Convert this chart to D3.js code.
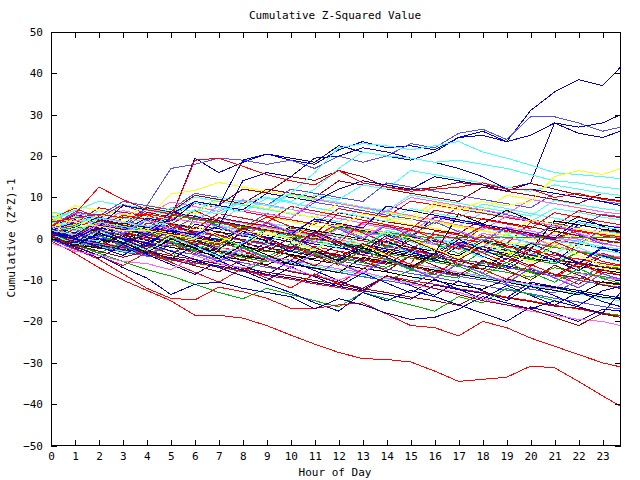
<!DOCTYPE html>
<html><head><meta charset="utf-8">
<script src="https://cdn.jsdelivr.net/npm/d3@7"></script>
<style>
body{margin:0;background:#fff}
text{font-family:"DejaVu Sans Mono",monospace;font-size:11px;fill:#000}
</style>
</head><body><svg id="c" width="640" height="480"></svg>
<script>
const hours = [0,1,2,3,4,5,6,7,8,9,10,11,12,13,14,15,16,17,18,19,20,21,22,23,23.75];
const xTickValues = [0,1,2,3,4,5,6,7,8,9,10,11,12,13,14,15,16,17,18,19,20,21,22,23];
const yTickValues = [-50,-40,-30,-20,-10,0,10,20,30,40,50];
const titleText = "Cumulative Z-Squared Value";
const xLabel = "Hour of Day";
const yLabel = "Cumulative (Z*Z)-1";

// bulk series (hourly readings)
const b1 = [1.5,0.8,3.6,2.4,1.3,0.5,-0.6,-1.5,3.2,2.1,1.0,0.2,-0.9,-1.8,1.5,0.4,-0.5,-1.6,2.8,1.7,0.8,-0.3,-1.2,2.1,1.4];
const b2 = [0.2,-1.1,-2.0,-3.2,-4.1,-1.5,-2.6,-3.4,-4.5,-5.6,-2.8,-3.9,-4.7,-5.8,-6.9,-4.2,-5.1,-6.3,-7.2,-8.1,-9.3,-7.0,-8.2,-9.1,-9.8];
const b3 = [0.8,2.9,1.8,0.7,-0.4,-1.3,3.5,2.4,1.3,0.4,-0.8,4.2,3.1,2.0,1.2,0.1,5.3,4.1,3.2,2.0,0.9,-0.2,3.4,2.3,1.8];
const b4 = [3.5,2.6,1.4,4.1,3.0,1.9,0.8,-0.1,-1.2,2.5,1.3,0.4,3.6,2.4,1.5,0.3,-0.6,-1.8,1.3,0.2,-0.9,-1.8,-2.9,-3.8,-4.6];
const b5 = [2.8,4.9,3.8,2.6,1.7,5.8,4.7,3.9,8.2,7.1,6.0,5.2,4.1,7.4,6.2,5.3,4.2,3.1,6.3,5.4,4.2,7.3,6.4,5.2,4.6];
const b6 = [0.4,-0.7,-1.8,1.2,0.3,-0.9,-1.9,-2.8,-3.9,-5.0,-2.1,-3.2,-4.0,-5.1,-6.2,-2.8,-3.9,-5.0,-5.8,-6.9,-8.1,-9.0,-5.7,-6.8,-7.4];
const b7 = [6.2,5.1,4.3,3.1,6.4,5.2,4.1,3.3,2.2,5.3,4.2,3.1,2.3,1.1,4.6,3.4,2.5,1.3,0.4,-0.8,-1.7,1.5,0.3,-0.6,-1.3];
const b8 = [0.1,-1.0,-2.2,-3.1,-1.0,-2.1,-3.0,-4.2,-5.1,-6.3,-4.0,-5.2,-6.1,-7.2,-8.0,-9.2,-10.1,-11.3,-12.2,-9.8,-10.9,-11.8,-13.0,-14.1,-14.6];
const b9 = [1.8,0.9,4.2,3.1,6.9,5.8,4.9,3.8,2.7,6.1,5.0,8.8,7.9,6.8,5.7,4.8,3.6,7.8,6.9,5.8,4.6,3.7,2.6,5.9,5.3];
const b10 = [5.1,4.0,3.2,2.1,1.0,-0.1,-1.2,-2.0,-3.1,-4.3,-5.2,-1.9,-3.0,-3.9,-5.1,-6.0,1.8,0.9,-0.3,-1.2,3.9,2.7,1.8,0.7,0.0];
const b11 = [0.6,-0.5,-1.6,-2.8,-3.7,-4.8,-5.9,-6.8,-8.0,-5.1,-6.2,-7.0,-8.2,-9.1,-10.2,-7.6,-8.7,-9.5,-5.8,-6.9,-7.8,-9.0,-9.9,-11.0,-11.7];
const b12 = [0.3,-0.8,2.6,1.5,0.4,-0.7,-1.6,-2.8,1.8,0.9,-0.2,-1.3,-2.2,-3.3,-4.4,0.5,-0.6,-1.5,-2.6,-3.5,-4.7,-5.6,-1.2,-2.3,-2.9];
const b13 = [1.2,0.1,-1.0,-1.9,-3.0,-4.1,-5.0,-6.1,-3.2,2.7,1.8,0.7,-0.2,-1.3,-2.4,0.9,0.0,-1.2,-2.1,2.8,1.9,0.8,-0.1,-1.2,-1.9];
const b14 = [4.5,3.4,6.8,5.9,4.7,3.8,2.7,1.6,4.9,3.8,2.9,1.7,0.8,3.9,2.8,1.9,0.7,-0.2,2.6,1.5,0.6,-0.5,-1.4,1.9,1.2];
const b15 = [2.1,1.0,0.1,-1.1,-2.0,2.9,1.8,0.9,-0.2,-1.1,-2.3,1.5,0.4,-0.5,-1.7,-2.6,-3.7,0.8,-0.3,-1.2,-2.3,1.9,0.8,-0.3,-1.0];
const b16 = [0.5,-0.6,-1.5,-2.6,-3.7,-4.6,-2.0,-3.1,-4.0,-5.2,-6.1,-7.2,-8.1,-4.4,-5.5,-6.4,-7.6,-8.5,-9.6,-10.5,-7.9,-9.0,-9.8,-11.0,-11.6];
const b17 = [1.9,0.8,-0.3,-1.2,2.4,1.3,0.2,-0.7,-1.8,-2.9,-3.8,-4.9,-1.2,-2.3,-3.2,-4.3,-5.2,-6.3,-7.4,-3.6,-4.7,-5.6,-6.7,-7.6,-8.2];
const b18 = [0.0,-1.1,-2.0,-3.1,-4.2,-5.1,-6.2,-3.0,-4.1,-5.0,-6.1,-7.2,-8.1,-9.2,-10.1,-11.2,-8.0,-9.1,-10.0,-11.1,-12.2,-13.1,-10.0,-11.1,-11.8];
const b19 = [3.0,1.9,1.0,-0.1,3.8,2.7,1.6,0.7,-0.4,-1.3,2.6,1.5,0.4,-0.5,-1.6,-2.7,1.1,0.0,-0.9,-2.0,-2.9,-4.0,-4.9,-6.0,-6.6];
const b20 = [0.9,-0.2,-1.1,-2.2,-3.3,5.8,4.7,3.8,2.7,1.8,0.7,-0.2,2.9,1.8,0.9,-0.2,-1.1,-2.2,-3.1,-4.2,-1.0,-2.1,-3.0,-4.1,-4.7];
const b21 = [2.6,5.8,4.7,3.6,2.7,1.6,0.5,-0.4,-1.5,2.2,1.1,0.2,-0.9,-1.8,-2.9,-3.8,-4.9,-0.8,-1.9,-2.8,-3.9,-5.0,-5.9,-7.0,-7.5];
const b22 = [0.7,-0.4,-1.3,-2.4,0.9,-0.2,-1.1,-2.2,-3.1,-4.2,-5.3,-6.2,-7.3,-8.2,-5.0,-6.1,-7.0,-8.1,-9.0,-10.1,-11.0,-12.1,-8.3,-9.4,-10.0];
const b23 = [1.4,0.3,-0.6,2.9,1.8,0.9,-0.2,-1.1,3.4,2.5,1.4,0.3,-0.6,-1.7,2.0,0.9,0.0,-1.1,-2.0,-3.1,1.2,0.1,-0.8,-1.9,-2.5];
const b24 = [4.0,2.9,2.0,0.9,-0.2,-1.1,-2.2,-3.1,-4.2,-0.8,-1.9,-2.8,-3.9,-4.8,-5.9,-6.8,-7.9,-8.8,-5.5,-6.6,-7.5,-8.6,-9.5,-10.6,-11.2];
const b25 = [2.4,1.3,0.4,3.5,2.4,1.5,5.2,4.1,3.2,2.1,1.0,0.1,3.3,2.2,1.3,0.2,3.9,2.8,1.9,0.8,-0.1,-1.2,-2.1,1.2,0.6];
const b26 = [-0.3,-1.4,-2.3,5.6,4.7,3.6,2.7,1.6,0.7,-0.4,3.0,1.9,1.0,-0.1,-1.0,-2.1,-3.0,-4.1,-0.6,-1.7,-2.6,4.3,3.4,2.3,1.7];
const b27 = [3.3,2.2,1.3,0.2,-0.9,-1.8,1.6,0.5,-0.4,-1.5,-2.4,-3.5,-4.4,-5.5,-1.9,-3.0,-3.9,-5.0,-5.9,-7.0,-7.9,-9.0,-9.9,-6.5,-7.0];
const b28 = [0.2,-0.9,-1.8,-2.9,-3.8,-4.9,-5.8,-6.9,-7.8,-8.9,-9.8,-10.9,-11.8,-12.9,-9.0,-10.1,-11.0,-12.1,-13.0,-14.1,-15.0,-16.1,-17.0,-18.1,-18.6];
const b29 = [1.6,0.5,3.9,2.8,1.9,0.8,-0.1,-1.2,-2.1,-3.2,0.4,-0.7,-1.6,-2.7,-3.6,-4.7,-5.6,-6.7,-3.0,-4.1,-5.0,-6.1,-3.2,-4.3,-4.9];
const b30 = [0.5,-0.6,-1.5,-2.6,-3.5,-4.6,-5.5,-6.6,-7.5,-8.6,-9.5,-10.6,-11.5,-12.6,-13.5,-14.6,-11.2,-12.3,-13.2,-14.3,-10.5,-11.6,-12.5,-13.6,-14.3];
const b31 = [5.5,4.4,3.5,2.4,1.5,0.4,4.1,3.0,2.1,1.0,0.1,-1.0,2.6,1.5,0.6,-0.5,-1.4,-2.5,-3.4,0.2,-0.9,-1.8,-2.9,-3.8,-4.4];
const b32 = [0.1,-1.0,-1.9,-3.0,-3.9,-0.6,-1.7,-2.6,-3.7,-4.6,-5.7,-6.6,-7.7,-8.6,-9.7,-10.6,-7.3,-8.4,-9.3,-10.4,-11.3,-12.4,-13.3,-14.4,-15.0];
const b33 = [1.0,-0.1,-1.0,-2.1,-3.0,-4.1,-5.0,-6.1,-7.0,-8.1,-9.0,-10.1,-11.0,-12.1,-13.0,-14.1,-15.0,-16.1,-13.2,-14.3,-15.2,-16.3,-16.8,-18.2,-19.0];
const b34 = [3.8,2.7,1.8,0.7,-0.2,-1.3,-2.2,-3.3,3.5,2.4,1.5,0.4,-0.5,-1.6,-2.5,-3.6,-4.5,-5.6,-6.5,-3.1,-4.2,-5.1,-6.2,-7.1,-7.7];
const b35 = [0.4,2.9,1.8,0.9,-0.2,-1.1,-2.2,-3.1,-4.2,-5.1,-6.2,-7.1,-8.2,-4.5,-5.6,-6.5,-7.6,-8.5,-9.6,-10.5,-11.6,-12.5,-13.6,-10.4,-11.0];
const b36 = [2.2,1.1,0.2,-0.9,-1.8,-2.9,-3.8,-4.9,-5.8,-6.9,-7.8,-8.9,-5.3,-6.4,-7.3,-8.4,-9.3,-10.4,-11.3,-12.4,-13.3,-14.4,-15.3,-16.4,-17.0];
const b37 = [4.8,3.7,7.5,6.4,5.5,4.4,8.6,7.5,6.6,5.5,4.6,3.5,7.3,6.2,5.3,9.1,8.2,7.1,6.2,5.1,4.2,3.1,6.8,5.7,5.1];
const b38 = [6.5,5.4,4.5,8.3,7.2,6.3,10.1,9.0,8.1,7.0,10.8,9.7,8.8,7.7,6.8,10.6,9.5,8.6,7.5,6.6,5.5,9.3,8.2,7.3,6.8];
const b39 = [3.1,6.2,5.1,4.2,3.1,2.2,1.1,4.9,3.8,2.9,1.8,0.9,-0.2,3.6,2.5,1.6,5.4,4.5,3.4,2.5,1.4,0.3,-0.6,3.2,2.8];
const b40 = [2.0,0.9,4.3,3.2,2.3,1.2,0.3,5.1,4.0,3.1,2.0,1.1,6.3,5.2,4.1,3.2,2.1,1.2,4.9,3.8,2.9,1.8,0.7,-0.4,-1.0];
const b41 = [4.1,8.0,6.9,5.8,4.9,10.8,11.7,13.6,12.5,11.4,10.5,9.4,8.5,7.4,6.5,5.4,8.7,7.6,6.7,10.5,9.6,8.5,7.6,6.5,6.0];
const b42 = [1.1,0.0,-0.9,3.8,2.9,1.8,0.9,-0.2,-1.1,-2.2,-3.1,-4.2,-5.1,-1.4,-2.5,-3.4,-4.5,-5.4,-6.5,-7.4,-4.0,-5.1,-6.0,-2.3,-2.8];
const b43 = [1.5,0.4,3.6,2.5,6.4,5.3,9.0,8.1,12.0,11.1,15.0,14.1,16.5,15.0,12.5,11.8,12.4,13.6,13.0,12.2,13.4,12.0,10.6,9.8,9.2];
const b44 = [0.3,-0.8,-1.7,2.1,1.0,0.1,-1.0,-1.9,3.0,1.9,1.0,-0.1,-1.0,-2.1,1.6,0.7,0.2,0.2,0.2,0.2,0.2,0.2,0.2,0.2,0.2];

// jagged series (hourly readings)
const z1 = [1.0,3.5,0.8,-1.9,1.4,-1.2,-3.6,-0.4,-2.9,-5.2,-1.8,-4.1,-6.4,-2.7,-5.0,-7.3,-3.6,-6.1,-8.2,-4.7,-7.0,-9.4,-6.0,-8.5,-9.8];
const z2 = [2.2,-0.3,3.1,0.6,-1.8,2.5,-0.1,-2.6,1.8,-0.7,-3.1,0.9,-1.6,-4.0,-0.5,-3.0,-5.4,-1.7,-4.2,-6.6,-2.8,-5.3,-7.7,-4.1,-5.5];
const z3 = [0.0,-2.4,0.9,-1.5,-3.9,-0.6,-3.0,-5.4,-2.1,-4.5,-6.9,-3.4,-5.8,-8.2,-4.6,-7.0,-9.4,-5.9,-8.3,-10.7,-7.0,-9.4,-11.8,-8.5,-10.0];
const z4 = [4.2,6.9,4.4,2.0,5.1,2.7,0.3,3.6,1.2,-1.2,2.4,0.0,-2.4,1.3,-1.1,-3.5,0.2,-2.2,-4.6,-1.0,-3.4,-5.8,-2.1,-4.5,-5.6];
const z5 = [1.3,-1.1,-3.5,-0.8,-3.2,-5.6,5.6,3.2,0.8,4.0,1.6,-0.8,2.7,0.3,-2.1,1.2,-1.2,-3.6,-0.1,-2.5,-4.9,-1.6,-4.0,-6.4,-7.2];
const z6 = [3.6,1.2,4.5,2.1,-0.3,3.4,1.0,-1.4,2.3,-0.1,-2.5,1.4,-1.0,-3.4,0.2,-2.2,-4.6,-1.0,-3.4,-5.8,-2.2,-4.6,-7.0,-3.5,-4.9];
const z7 = [0.4,2.8,5.3,2.9,0.5,3.7,1.3,-1.1,2.6,0.2,-2.2,1.7,-0.7,-3.1,0.8,-1.6,-4.0,-0.2,-2.6,-5.0,-1.1,-3.5,-5.9,-2.0,-3.4];
const z8 = [2.5,0.1,-2.3,1.0,-1.4,-3.8,-0.5,-2.9,-5.3,-1.8,-4.2,-6.6,-3.0,-5.4,-7.8,-4.1,-6.5,-8.9,-5.2,-7.6,-10.0,-6.4,-8.8,-11.2,-12.0];
const z9 = [5.8,3.4,1.0,4.3,1.9,-0.5,3.0,0.6,-1.8,1.9,-0.5,-2.9,0.9,-1.5,-3.9,0.0,-2.4,-4.8,-0.9,-3.3,-5.7,-1.6,-4.0,-6.4,-6.9];
const z10 = [-0.2,-2.6,0.7,-1.7,-4.1,-0.8,-3.2,-5.6,-2.3,-4.7,-7.1,-3.6,-6.0,-8.4,-4.8,-7.2,-9.6,-6.0,-8.4,-10.8,-7.1,-9.5,-11.9,-8.4,-9.8];
const z11 = [0.7,-1.7,-4.1,-6.5,-3.3,-5.7,-8.1,-10.5,-7.1,-9.5,-11.9,-8.5,-10.9,-7.3,-3.8,-6.2,-8.6,-5.0,-7.4,-9.8,-6.2,-8.6,-11.0,-7.4,-8.9];
const z12 = [1.8,4.6,2.2,-0.2,-2.6,-5.0,-1.6,-4.0,-6.4,-8.8,-5.3,-7.7,-10.1,-12.5,-8.9,-11.3,-13.7,-10.2,-12.6,-15.0,-11.4,-13.8,-16.2,-12.6,-11.5];
const z13 = [2.9,0.5,3.8,1.4,4.7,2.3,-0.1,3.2,0.8,4.1,1.7,-0.7,2.6,0.2,3.5,1.1,-1.3,2.0,-0.4,2.9,0.5,-1.9,1.4,-1.0,-2.0];
const z14 = [0.9,3.3,0.9,-1.5,1.8,-0.6,-3.0,0.3,-2.1,-4.5,-1.2,-3.6,-6.0,-2.7,-5.1,-7.5,-4.2,-6.6,-9.0,-5.7,-8.1,-10.5,-7.2,-9.6,-10.8];
const z15 = [1.1,-1.3,2.0,-0.4,-2.8,0.5,-1.9,-4.3,-1.0,2.3,-0.1,-2.5,0.8,-1.6,1.7,-0.7,-3.1,0.2,-2.2,1.1,-1.3,-3.7,-0.4,-2.8,-3.5];
const z16 = [0.6,-1.8,1.5,-0.9,-3.3,0.0,-2.4,-4.8,-1.5,-3.9,-6.3,-3.0,-5.4,-2.1,-4.5,-6.9,-3.6,6.0,3.6,6.9,4.5,2.1,5.4,3.0,1.8];
const z17 = [4.8,7.4,5.0,8.3,5.9,3.5,6.8,4.4,2.0,5.3,2.9,0.5,3.8,1.4,-1.0,2.3,-0.1,-2.5,0.8,-1.6,-4.0,-0.7,-3.1,-5.5,-6.4];
const z18 = [0.1,-2.3,-4.7,-1.4,-3.8,-6.2,-8.6,-5.3,-7.7,-10.1,-6.8,-9.2,-11.6,-8.3,-10.7,-13.1,-9.8,-12.2,-14.6,-11.3,-13.7,-16.1,-12.8,-15.2,-16.4];
const z19 = [3.2,5.9,3.5,1.1,4.4,2.0,5.3,2.9,0.5,3.8,1.4,4.7,2.3,-0.1,3.2,0.8,4.1,1.7,-0.7,2.6,0.2,3.5,1.1,-1.3,-0.4];
const z20 = [1.5,-0.9,2.4,0.0,-2.4,0.9,-1.5,1.8,-0.6,-3.0,0.3,-2.1,-4.5,-1.2,-3.6,-0.3,-2.7,-5.1,-1.8,-4.2,-6.6,-3.3,-5.7,-8.1,-8.8];

// upper-band series (hourly readings)
const u1 = [2.0,4.5,3.4,6.8,5.7,8.9,7.8,6.6,9.4,8.3,7.1,6.0,4.9,3.8,6.7,5.6,4.5,3.3,2.2,5.4,4.3,3.1,2.0,0.9,0.3];
const u2 = [5.0,6.8,9.1,8.0,6.9,5.8,8.7,7.6,6.5,9.8,8.7,7.5,6.4,5.3,4.2,7.3,6.2,5.1,8.4,7.3,6.1,5.0,3.9,2.8,2.2];
const u3 = [3.5,2.4,5.9,4.8,8.2,7.1,6.0,9.5,8.4,7.3,6.2,5.1,8.6,7.5,6.4,5.3,4.2,3.1,2.0,0.9,4.6,3.5,2.4,1.3,0.8];
const u4 = [0.8,3.9,2.8,5.7,4.6,3.5,2.4,6.1,5.0,3.9,7.8,6.7,5.6,4.5,3.4,2.3,6.9,5.8,4.7,3.6,2.5,6.3,5.2,4.1,3.4];
const u5 = [1.6,0.5,3.4,2.3,1.2,6.5,5.4,4.3,3.2,2.1,1.0,4.8,3.7,2.6,7.9,6.8,5.7,4.6,3.5,2.4,1.3,0.2,4.4,3.3,2.6];
const v1 = [2.0,1.0,4.5,3.5,7.5,6.5,10.5,9.5,8.5,12.0,11.0,10.0,14.0,13.0,12.0,11.0,10.0,9.0,12.5,11.5,10.5,9.5,8.5,11.0,10.5];
const v2 = [3.0,6.5,5.5,9.0,8.0,7.0,11.0,10.0,9.0,8.0,12.0,11.0,10.0,9.0,13.5,12.5,11.5,10.5,9.5,8.5,7.5,11.0,10.0,9.0,8.5];
const v3 = [1.0,0.0,3.5,2.5,1.5,5.0,4.0,8.0,7.0,6.0,5.0,9.5,8.5,7.5,6.5,10.0,9.0,8.0,7.0,6.0,9.5,8.5,7.5,6.5,6.0];
const v4 = [0.5,-1.5,-3.5,-5.5,-7.5,-9.0,-11.0,-13.0,-14.5,-12.0,-13.5,-15.0,-16.5,-13.0,-14.5,-16.0,-17.5,-14.0,-15.5,-12.0,-13.5,-15.0,-16.5,-18.0,-18.5];
const v5 = [1.5,0.0,-2.0,-4.0,-1.0,-3.0,-5.0,-7.0,-9.0,-11.0,-13.0,-15.5,-17.5,-13.0,-15.0,-12.5,-14.0,-16.0,-18.0,-20.0,-16.5,-18.0,-20.0,-17.0,-17.5];
const v6 = [4.0,3.0,6.0,5.0,4.0,7.5,6.5,10.0,9.0,8.0,7.0,10.5,9.5,13.0,12.0,16.5,15.5,14.5,13.5,12.5,11.5,13.0,12.0,11.0,10.5];

// distinct outlying series
const sA = [0.5,1.5,0,-1,1,5,19.5,16,18.5,20.5,19,18,21.5,23.5,22,22.5,21.5,24.5,26,23.5,31,35.5,38.5,37,41.5];
const sB = [1,0,2,1,8,17,18,19.5,19,18,19,17,20,18.5,20,23,22,25.5,26.5,24,29.5,29.5,28,26,27];
const sC = [2,4,3,8,7,6,9,8,7,11,10,9,12,14,13,12,15,14,13,11.5,13.5,28,27,28,30];
const sD = [1,0,3,2,5,4,9,8,19,20.5,19.5,18.5,22.5,21,20,19,21,24.5,25,23.5,25,28,25.5,24.5,26];
const sE = [0,-1,1,0,-1,2,1,3,14,16,15,19.5,20,22,21,19.5,18.5,17,15,12,12,11,10,9,8];
const sF = [2,1,5,4,3,4,7,6,9,8,11,16,22,23,22.5,21.5,22.5,23.5,21,19.5,17.8,16,15.5,15,14.5];
const sG = [3,2,4,3,2,6,5,7,9,10,9,12,17,21,20,19.5,18.5,19,18,17,15.5,14,13.5,12.5,12];
const sY = [5,4,3,2,2,1,0,-1,2,1,0,4,3,6,5,4.5,8,7,9,8,9,15,16.5,15.5,17];
const sH = [4,5,6,5,6,5,19,19.5,17.5,15.5,14,13,16.5,13.5,12.5,11.5,12,12.5,13.5,12,12,10,11,9.5,9];
const sI = [3,6,12.5,9.5,7,6,5,4,3,2,1,0,-1,4,3,2,1,0,3,2,1,0,2,1,0.5];
const sL1 = [-0.5,-3.5,-7,-10,-12.5,-15,-18.5,-18.5,-19.2,-21,-23.3,-25.5,-27.5,-29,-29.2,-29.8,-32,-34.5,-34,-33.5,-30.8,-31.2,-34.5,-38,-40.5];
const sL2 = [1,-2.5,-5,-8.5,-12,-14.4,-14.8,-11.7,-12.8,-14.4,-16.8,-16.8,-16,-15.5,-18.2,-21,-21.5,-23.5,-20,-21.5,-24,-26,-28,-30,-31];
const sN1 = [0,-2,-4,-7,-9.5,-13.5,-11,-10.5,-12,-13,-14,-17,-14.5,-16,-18,-19.5,-19,-17,-14,-15.5,-17,-15,-16.5,-18,-13];
const sM1 = [-1,-3,-4,-5.5,-6,-7.5,-4,-6,-7,-5,-7,-9,-10,-8,-9.5,-11,-12,-13,-14.5,-16,-17.5,-18.5,-19.5,-20,-21];
const sD1 = [0.5,-1.5,-3,-4.5,-3,-5,-6.5,-8,-5,-6.5,-8,-9,-10.5,-12,-9,-10.5,-12,-13.5,-15,-16,-17,-19,-21,-18,-19];

const allSeries = [b1,b2,b3,b4,b5,b6,b7,b8,b9,b10,b11,b12,b13,b14,b15,b16,b17,b18,b19,b20,b21,b22,b23,b24,b25,b26,b27,b28,b29,b30,b31,b32,b33,b34,b35,b36,b37,b38,b39,b40,b41,b42,b43,b44,
  z1,z2,z3,z4,z5,z6,z7,z8,z9,z10,z11,z12,z13,z14,z15,z16,z17,z18,z19,z20,
  u1,u2,u3,u4,u5,v1,v2,v3,v4,v5,v6,
  sA,sB,sC,sD,sE,sF,sG,sY,sH,sI,sL1,sL2,sN1,sM1,sD1];
// colour index per series
const colourIndex = [0,1,2,3,4,5,6,7,8,0,1,2,3,4,5,6,7,8,0,1,2,3,4,5,6,7,8,0,1,2,3,4,5,6,7,8,0,4,3,5,6,2,5,1,
  0,2,3,4,1,0,2,5,6,8,0,2,3,1,4,7,0,2,8,5,
  3,4,6,0,2,5,8,3,1,2,4,
  2,8,2,2,2,4,4,6,0,0,0,0,2,3,5];
const palette = ["#ff0000","#00b000","#0000d0","#ff60ff","#40ffff","#a00000","#ffff00","#000000","#5050ff"];

const svg = d3.select("#c");
const W = 640, H = 480;
const m = {l:51, r:620.5, t:32, b:445.5};
const x = d3.scaleLinear().domain([0,23.75]).range([m.l, m.r]);
const y = d3.scaleLinear().domain([-50,50]).range([m.b, m.t]);

svg.append("rect").attr("width",W).attr("height",H).attr("fill","#fff");

const line = d3.line().x((d,i)=>x(hours[i])).y(d=>y(d));
const g = svg.append("g");
allSeries.forEach((s,k)=>{
  g.append("path").attr("d", line(s)).attr("fill","none")
   .attr("stroke", palette[colourIndex[k]]).attr("stroke-width",1)
   .attr("shape-rendering","crispEdges");
});

// frame
svg.append("rect").attr("x",m.l).attr("y",m.t).attr("width",m.r-m.l).attr("height",m.b-m.t)
  .attr("fill","none").attr("stroke","#000").attr("shape-rendering","crispEdges");

function styleAxis(sel){
  sel.select(".domain").remove();
  sel.selectAll("line").attr("stroke","#000").attr("shape-rendering","crispEdges");
  sel.selectAll("text").attr("fill","#000").style("font-family","'DejaVu Sans Mono',monospace").style("font-size","11px");
}
svg.append("g").attr("transform",`translate(0,${m.b})`)
  .call(d3.axisBottom(x).tickValues(xTickValues).tickSize(-6).tickPadding(7).tickFormat(d3.format("d")))
  .call(styleAxis);
svg.append("g").attr("transform",`translate(0,${m.t})`)
  .call(d3.axisTop(x).tickValues(xTickValues).tickSize(-6).tickFormat(""))
  .call(styleAxis);
svg.append("g").attr("transform",`translate(${m.l},0)`)
  .call(d3.axisLeft(y).tickValues(yTickValues).tickSize(-6).tickPadding(8).tickFormat(d3.format("d")))
  .call(styleAxis);
svg.append("g").attr("transform",`translate(${m.r},0)`)
  .call(d3.axisRight(y).tickValues(yTickValues).tickSize(-6).tickFormat(""))
  .call(styleAxis);

svg.append("text").attr("x",335).attr("y",19).attr("text-anchor","middle").text(titleText);
svg.append("text").attr("x",335).attr("y",476).attr("text-anchor","middle").text(xLabel);
svg.append("text").attr("transform","translate(15,238) rotate(-90)").attr("text-anchor","middle").text(yLabel);
</script></body></html>
